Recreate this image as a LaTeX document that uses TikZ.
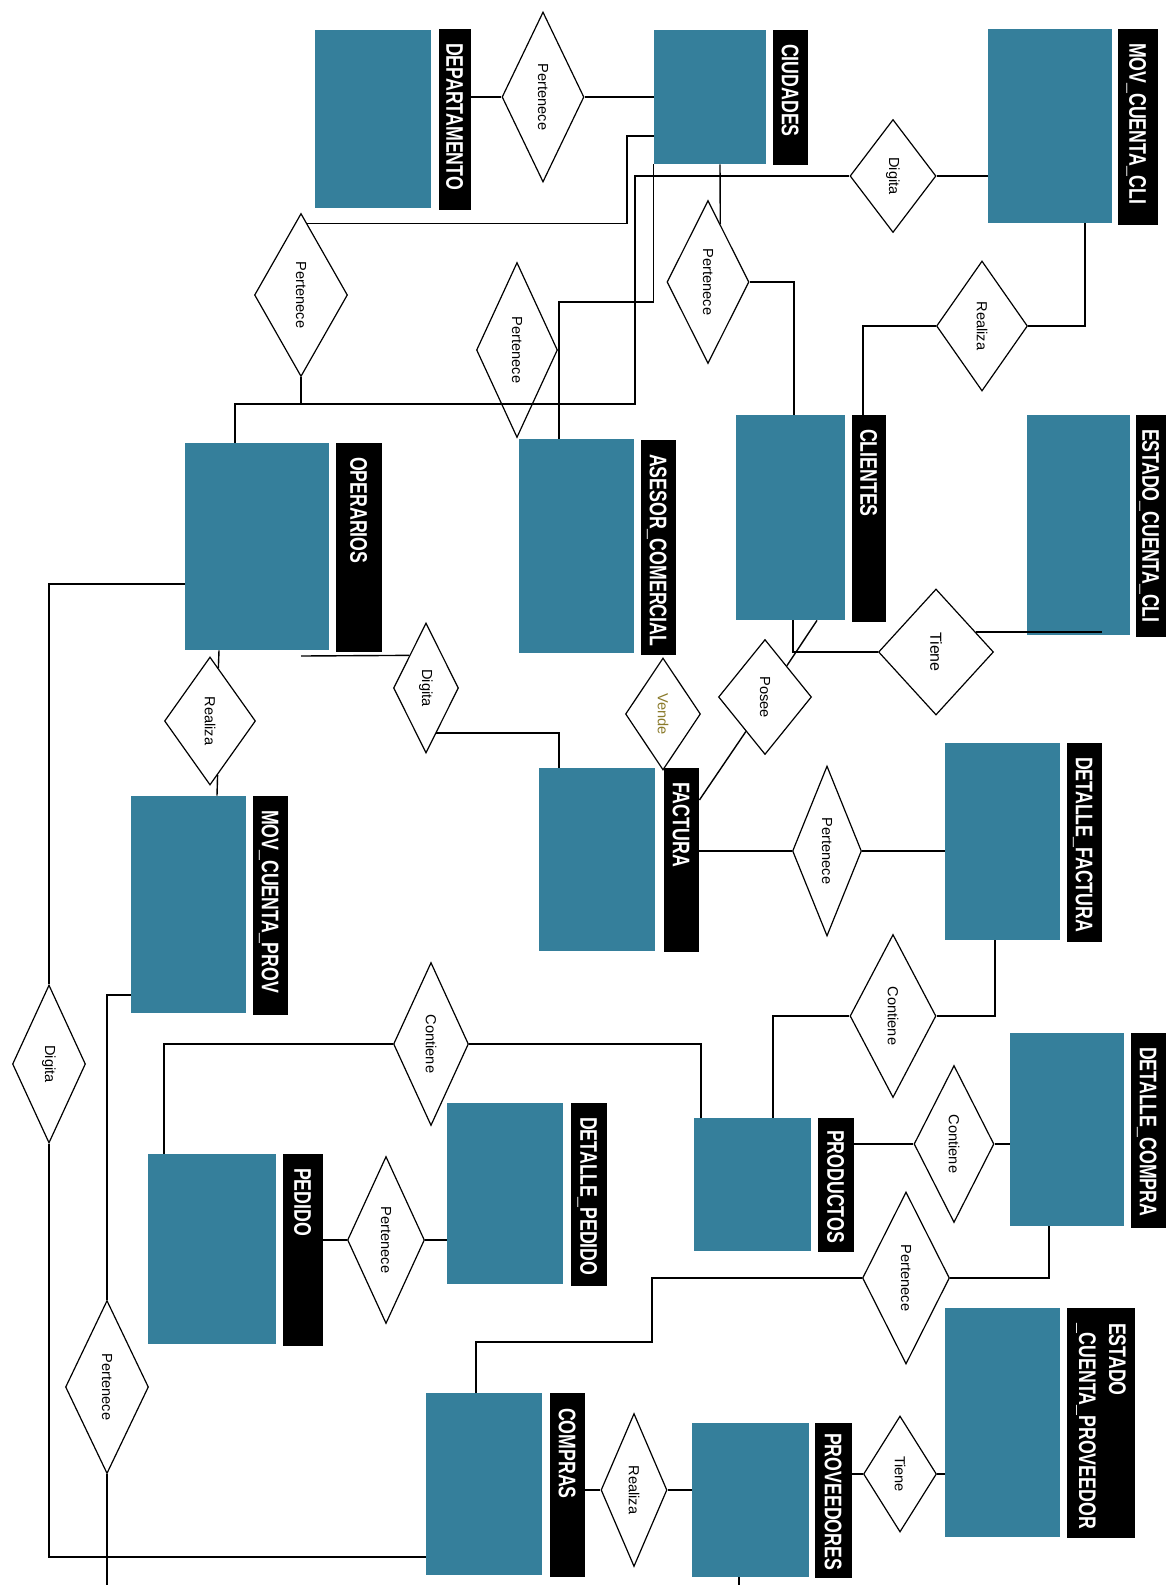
\documentclass[tikz,border=0pt]{standalone}
\usepackage{fontspec}
\setmainfont{Liberation Sans}
\newfontfamily\labfont{Liberation Sans}[FakeStretch=0.74]
\usetikzlibrary{shapes.geometric,fit,calc}
\definecolor{entblue}{HTML}{357F9B}
\definecolor{vendc}{HTML}{8A7A2A}
\begin{document}
\begin{tikzpicture}[x=0.5pt,y=-0.5pt,
  entbox/.style={fill=entblue, draw=none, inner sep=0pt},
  labbox/.style={fill=black, draw=none, inner sep=0pt},
  labtxt/.style={rotate=-90, anchor=west, inner sep=0pt, text=white,
    font=\labfont\bfseries\fontsize{12}{15}\selectfont, text height=8.6pt, text depth=0pt},
  labtxttwo/.style={rotate=-90, anchor=west, inner sep=0pt, text=white, align=left,
    font=\labfont\bfseries\fontsize{12}{15}\selectfont},
  rel/.style={diamond, draw, fill=white, inner sep=0pt, aspect=0.3, line width=0.6pt,
    font=\fontsize{7.3}{8}\selectfont},
  dia/.style 2 args={minimum width=#1*0.5pt, minimum height=#2*0.5pt},
  conn/.style={line width=0.7pt}
]
\fill[white] (0,0) rectangle (1166,1585);
\useasboundingbox (0,0) rectangle (1166,1585);

% entities
\node[entbox, fit={(315,30) (431,208)}] (DEP) {};
\node[labbox, fit={(439,29) (471,210)}] (DEPL) {};
\node[entbox, fit={(654,30) (766,164)}] (CIU) {};
\node[labbox, fit={(773,30) (808,165)}] (CIUL) {};
\node[entbox, fit={(988,29) (1112,223)}] (MCC) {};
\node[labbox, fit={(1118,29) (1158,225)}] (MCCL) {};
\node[entbox, fit={(185,443) (329,650)}] (OPE) {};
\node[labbox, fit={(336,443) (382,652)}] (OPEL) {};
\node[entbox, fit={(519,439) (634,653)}] (ASE) {};
\node[labbox, fit={(641,440) (676,655)}] (ASEL) {};
\node[entbox, fit={(736,415) (845,620)}] (CLI) {};
\node[labbox, fit={(852,415) (886,622)}] (CLIL) {};
\node[entbox, fit={(1027,415) (1130,635)}] (ECC) {};
\node[labbox, fit={(1136,415) (1166,637)}] (ECCL) {};
\node[entbox, fit={(539,768) (655,951)}] (FAC) {};
\node[labbox, fit={(664,768) (699,952)}] (FACL) {};
\node[entbox, fit={(945,743) (1060,940)}] (DFA) {};
\node[labbox, fit={(1067,743) (1102,942)}] (DFAL) {};
\node[entbox, fit={(131,796) (246,1013)}] (MCP) {};
\node[labbox, fit={(253,796) (288,1015)}] (MCPL) {};
\node[entbox, fit={(694,1118) (811,1251)}] (PRO) {};
\node[labbox, fit={(818,1118) (854,1252)}] (PROL) {};
\node[entbox, fit={(1010,1033) (1124,1226)}] (DCO) {};
\node[labbox, fit={(1131,1033) (1166,1228)}] (DCOL) {};
\node[entbox, fit={(148,1154) (276,1344)}] (PED) {};
\node[labbox, fit={(283,1154) (323,1346)}] (PEDL) {};
\node[entbox, fit={(447,1103) (563,1284)}] (DPE) {};
\node[labbox, fit={(571,1103) (607,1286)}] (DPEL) {};
\node[entbox, fit={(426,1393) (542,1575)}] (COM) {};
\node[labbox, fit={(550,1393) (585,1577)}] (COML) {};
\node[entbox, fit={(692,1423) (809,1577)}] (PRV) {};
\node[labbox, fit={(815,1423) (852,1578)}] (PRVL) {};
\node[entbox, fit={(945,1308) (1060,1537)}] (ECP) {};
\node[labbox, fit={(1067,1308) (1135,1538)}] (ECPL) {};

% entity names
\node[labtxt] (tDEP) at ($(DEPL.north)+(0,14)$) {DEPARTAMENTO};
\node[labtxt] (tCIU) at ($(CIUL.north)+(0,14)$) {CIUDADES};
\node[labtxt] (tMCC) at ($(MCCL.north)+(0,14)$) {MOV\_CUENTA\_CLI};
\node[labtxt] (tOPE) at ($(OPEL.north)+(0,14)$) {OPERARIOS};
\node[labtxt] (tASE) at ($(ASEL.north)+(0,14)$) {ASESOR\_COMERCIAL};
\node[labtxt] (tCLI) at ($(CLIL.north)+(0,14)$) {CLIENTES};
\node[labtxt] (tECC) at ($(ECCL.north)+(0,14)$) {ESTADO\_CUENTA\_CLI};
\node[labtxt] (tFAC) at ($(FACL.north)+(0,14)$) {FACTURA};
\node[labtxt] (tDFA) at ($(DFAL.north)+(0,14)$) {DETALLE\_FACTURA};
\node[labtxt] (tMCP) at ($(MCPL.north)+(0,14)$) {MOV\_CUENTA\_PROV};
\node[labtxt] (tPRO) at ($(PROL.north)+(0,12)$) {PRODUCTOS};
\node[labtxt] (tDCO) at ($(DCOL.north)+(0,14)$) {DETALLE\_COMPRA};
\node[labtxt] (tPED) at ($(PEDL.north)+(0,14)$) {PEDIDO};
\node[labtxt] (tDPE) at ($(DPEL.north)+(0,14)$) {DETALLE\_PEDIDO};
\node[labtxt] (tCOM) at ($(COML.north)+(0,15)$) {COMPRAS};
\node[labtxt] (tPRV) at ($(PRVL.north)+(0,10)$) {PROVEEDORES};
\node[labtxttwo] (tECP) at ($(ECPL.north)+(0,15)$) {ESTADO\\\_CUENTA\_PROVEEDOR};

% relationships
\node[rel, dia={82}{170}] (R1) at (543,97) {\rotatebox{-90}{Pertenece}};
\node[rel, dia={93}{163}] (R2) at (301,295) {\rotatebox{-90}{Pertenece}};
\node[rel, dia={81}{175}] (R3) at (517,350) {\rotatebox{-90}{Pertenece}};
\node[rel, dia={82}{163}] (R4) at (708,282) {\rotatebox{-90}{Pertenece}};
\node[rel, dia={86}{113}] (R5) at (893,176) {\rotatebox{-90}{Digita}};
\node[rel, dia={91}{130}] (R6) at (982,326) {\rotatebox{-90}{Realiza}};
\node[rel, dia={91}{128}] (R7) at (210,721) {\rotatebox{-90}{Realiza}};
\node[rel, dia={65}{130}] (R8) at (426,688) {\rotatebox{-90}{Digita}};
\node[rel, dia={75}{112}, text=vendc] (R9) at (663,714) {\rotatebox{-90}{Vende}};
\node[rel, dia={93}{115}] (R10) at (765,697) {\rotatebox{-90}{Posee}};
\node[rel, dia={115}{126}, font=\fontsize{8}{9}\selectfont] (R11) at (936,652) {\rotatebox{-90}{Tiene}};
\node[rel, dia={69}{170}] (R12) at (827,851) {\rotatebox{-90}{Pertenece}};
\node[rel, dia={86}{163}] (R13) at (893,1016) {\rotatebox{-90}{Contiene}};
\node[rel, dia={75}{163}] (R14) at (431,1044) {\rotatebox{-90}{Contiene}};
\node[rel, dia={80}{157}] (R15) at (954,1144) {\rotatebox{-90}{Contiene}};
\node[rel, dia={87}{172}] (R16) at (906,1278) {\rotatebox{-90}{Pertenece}};
\node[rel, dia={73}{116}] (R17) at (900,1474) {\rotatebox{-90}{Tiene}};
\node[rel, dia={66}{153}] (R18) at (634,1490) {\rotatebox{-90}{Realiza}};
\node[rel, dia={77}{167}] (R19) at (386,1240) {\rotatebox{-90}{Pertenece}};
\node[rel, dia={83}{173}] (R20) at (107,1387) {\rotatebox{-90}{Pertenece}};
\node[rel, dia={73}{158}] (R21) at (49,1064) {\rotatebox{-90}{Digita}};

\coordinate (o1) at (301,656);

% connectors
\draw[conn] (DEPL.east |- R1) -- (R1.west);
\draw[conn] (R1.east) -- (CIU.west |- R1);
\draw[conn] (R2.85) -| (627,136) -- (CIU.west |- 0,136);
\draw[conn] (R2.south) -- (R2.south |- 0,404);
\draw[conn] (OPE.north -| 235,0) |- (635,404) |- (R5.west);
\draw[conn] (R5.east) -- (MCC.west |- R5);
\draw[conn] (ASE.north -| 559,0) |- (CIU.south west |- 0,302) -- (CIU.south west);
\draw[conn] (CIU.south -| 720,0) -- (R4.78);
\draw[conn] (R4.east) -| (CLI.north -| 794,0);
\draw[conn] (R6.east) -| (MCC.south -| 1085,0);
\draw[conn] (R6.west) -| (CLIL.north -| 863,0);
\draw[conn] (CLI.south -| 793,0) |- (R11.west);
\draw[conn] (CLI.south -| 817,0) -- (R10.55);
\draw[conn] (R11.27) -- (R11.27 -| 1102,0);
\draw[conn] (R10.241) -- (FACL.east |- 0,800);
\draw[conn] (o1) -- (R8.117);
\draw[conn] (R8.283) -| (FAC.north -| 559,0);
\draw[conn] (OPE.south -| 219,0) -- (R7.81);
\draw[conn] (R7.278) -- (MCP.north -| 217,0);
\draw[conn] (OPE.west |- 0,584) -| (R21.north);
\draw[conn] (R21.south) |- (COM.west |- 0,1557);
\draw[conn] (MCP.west |- 0,995) -| (R20.north);
\draw[conn] (R20.south) -- (R20.south |- 0,1585);
\draw[conn] (FACL.east |- R12) -- (R12.west);
\draw[conn] (R12.east) -- (DFA.west |- R12);
\draw[conn] (R13.east) -| (DFA.south -| 995,0);
\draw[conn] (R13.west) -| (PRO.north -| 773,0);
\draw[conn] (R14.east) -| (PRO.north -| 701,0);
\draw[conn] (R14.west) -| (PED.north -| 164,0);
\draw[conn] (PROL.east |- R15) -- (R15.west);
\draw[conn] (R15.east) -- (DCO.west |- R15);
\draw[conn] (DCO.south -| 1049,0) |- (R16.east);
\draw[conn] (R16.west) -| (652,1342) -| (COM.north -| 476,0);
\draw[conn] (PEDL.east |- R19) -- (R19.west);
\draw[conn] (R19.east) -- (DPE.west |- R19);
\draw[conn] (COML.east |- R18) -- (R18.west);
\draw[conn] (R18.east) -- (PRV.west |- R18);
\draw[conn] (PRVL.east |- R17) -- (R17.west);
\draw[conn] (R17.east) -- (ECP.west |- R17);
\draw[conn] (PRV.south -| 739,0) -- (739,1585);
\end{tikzpicture}
\end{document}
